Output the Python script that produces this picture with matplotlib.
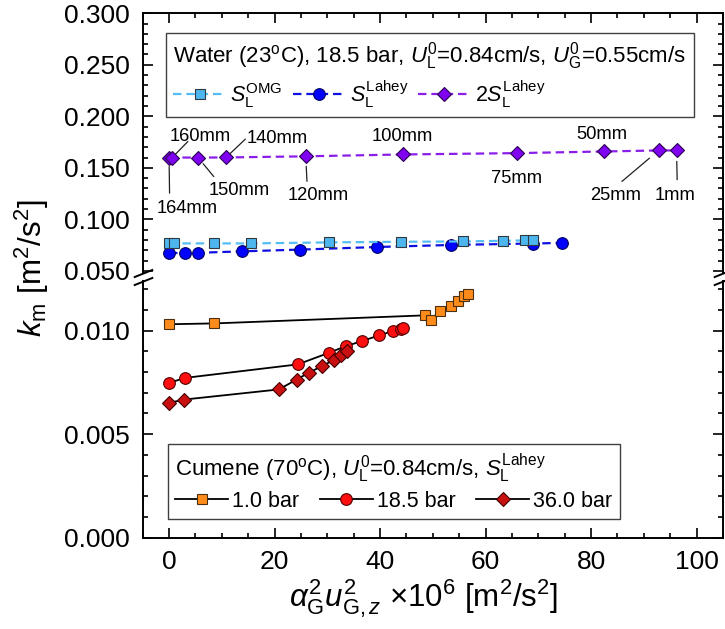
import matplotlib
matplotlib.use('Agg')
import matplotlib.pyplot as plt
from matplotlib.ticker import MultipleLocator, FormatStrFormatter

plt.rcParams['font.family'] = ['Liberation Sans', 'DejaVu Sans']
plt.rcParams['mathtext.fontset'] = 'custom'
plt.rcParams['mathtext.rm'] = 'Liberation Sans'
plt.rcParams['mathtext.it'] = 'Liberation Sans:italic'
plt.rcParams['mathtext.bf'] = 'Liberation Sans:bold'
plt.rcParams['mathtext.sf'] = 'Liberation Sans'

# ---------------- data ----------------
# Water (23 C), 18.5 bar
x_omg = [0.0, 0.9, 8.5, 15.6, 30.4, 44.0, 55.8, 63.3, 67.4, 68.9]
y_omg = [0.0767, 0.0767, 0.0767, 0.0767, 0.0777, 0.0783, 0.0786, 0.0792, 0.0796, 0.0796]

x_lahey = [0.0, 3.1, 5.5, 13.9, 24.9, 39.4, 53.5, 69.0, 74.5]
y_lahey = [0.0675, 0.0673, 0.0676, 0.0690, 0.0707, 0.0732, 0.0752, 0.0766, 0.0772]

heights = ['164mm', '160mm', '150mm', '140mm', '120mm', '100mm', '75mm', '50mm', '25mm', '1mm']
x_2lahey = [0.0, 0.6, 5.5, 10.8, 25.9, 44.3, 65.9, 82.4, 92.8, 96.2]
y_2lahey = [0.1600, 0.1600, 0.1600, 0.1601, 0.1612, 0.1630, 0.1643, 0.1659, 0.1669, 0.1669]

# Cumene (70 C)
x_1bar = [0.0, 8.6, 48.6, 49.6, 51.3, 53.5, 54.7, 56.0, 56.6]
y_1bar = [0.01031, 0.01035, 0.01074, 0.01051, 0.01095, 0.01119, 0.01143, 0.01168, 0.01179]

x_18bar = [0.0, 3.1, 24.4, 30.3, 33.5, 36.6, 39.8, 42.4, 43.9, 44.3]
y_18bar = [0.00748, 0.00772, 0.00837, 0.00893, 0.00925, 0.00950, 0.00977, 0.00998, 0.01010, 0.01015]

x_36bar = [0.0, 2.8, 20.8, 24.2, 26.5, 29.0, 31.2, 32.5, 33.7]
y_36bar = [0.00651, 0.00667, 0.00716, 0.00764, 0.00797, 0.00829, 0.00858, 0.00880, 0.00904]

# ---------------- figure ----------------
fig = plt.figure(figsize=(7.25, 6.29), dpi=100)
ax_top = fig.add_axes([0.1968, 0.5660, 0.8004, 0.4129])
ax_bot = fig.add_axes([0.1968, 0.1452, 0.8004, 0.4081])

for ax in (ax_top, ax_bot):
    ax.set_xlim(-5, 105)
    ax.xaxis.set_major_locator(MultipleLocator(20))
    ax.xaxis.set_minor_locator(MultipleLocator(5))
    for s in ax.spines.values():
        s.set_linewidth(1.4)
    ax.tick_params(which='both', direction='in', right=True, width=1.2,
                   labelsize=19, pad=9)
    ax.tick_params(which='major', length=7)
    ax.tick_params(which='minor', length=3.5)

ax_top.set_ylim(0.048, 0.300)
ax_top.yaxis.set_major_locator(MultipleLocator(0.05))
ax_top.yaxis.set_minor_locator(MultipleLocator(0.01))
ax_top.yaxis.set_major_formatter(FormatStrFormatter('%.3f'))
ax_top.spines['bottom'].set_visible(False)
ax_top.tick_params(which='both', top=True, bottom=False, labelbottom=False)

ax_bot.set_ylim(0.0, 0.0124)
ax_bot.yaxis.set_major_locator(MultipleLocator(0.005))
ax_bot.yaxis.set_minor_locator(MultipleLocator(0.001))
ax_bot.yaxis.set_major_formatter(FormatStrFormatter('%.3f'))
ax_bot.spines['top'].set_visible(False)
ax_bot.tick_params(which='both', top=False, bottom=True)

# ---- upper panel (water) ----
dash = (3.8, 2.2)
l_lahey, = ax_top.plot(x_lahey, y_lahey, ls='--', dashes=dash, color='#1010E0', lw=1.6,
                       marker='o', ms=8.4, mfc='#0000FF', mec='#000060', mew=0.8,
                       zorder=3, label=r'$S_{\rm L}^{\rm Lahey}$')
l_omg, = ax_top.plot(x_omg, y_omg, ls='--', dashes=dash, color='#55BDF5', lw=1.6,
                     marker='s', ms=7.6, mfc='#4DB6EE', mec='#303840', mew=0.8,
                     zorder=4, label=r'$S_{\rm L}^{\rm OMG}$')
l_2lahey, = ax_top.plot(x_2lahey, y_2lahey, ls='--', dashes=dash, color='#8A1EE8', lw=1.6,
                        marker='D', ms=7.3, mfc='#8000F0', mec='#2A0050', mew=0.8,
                        zorder=4, label=r'2$S_{\rm L}^{\rm Lahey}$')

leg_kw = dict(ncol=3, loc='upper left', borderaxespad=0, fontsize=15.5,
              title_fontsize=16, frameon=True, fancybox=False, edgecolor='#404040',
              framealpha=1, handlelength=2.45, handletextpad=0.2,
              borderpad=0.35, labelspacing=0.25)

leg1 = ax_top.legend(handles=[l_omg, l_lahey, l_2lahey],
                     title=r'Water (23$^{\rm o}$C), 18.5 bar, $U_{\rm L}^{0}$=0.84cm/s, $U_{\rm G}^{0}$=0.55cm/s',
                     bbox_to_anchor=(0.040, 0.924), columnspacing=0.45, **leg_kw)
leg1._legend_box.align = 'left'
leg1.get_frame().set_linewidth(1.0)

# height annotations (text offset px, leader end offset px, leader gap px)
label_style = {
    '164mm': ((18.5, -49.3), (0.5, -35.6), 9),
    '160mm': ((28.3, 22.7), (15.6, 16.0), 4),
    '150mm': ((40.7, -31.3), (15.7, -19.0), 8),
    '140mm': ((50.8, 20.6), (19.3, 18.3), 6),
    '120mm': ((13.0, -37.6), (1.3, -25.0), 10),
    '100mm': ((-0.8, 19.7), None, 0),
    '75mm': ((0.2, -23.5), None, 0),
    '50mm': ((-1.5, 18.7), None, 0),
    '25mm': ((-43.0, -42.6), (-36.7, -31.0), 12),
    '1mm': ((-1.7, -42.6), (0.6, -29.3), 11),
}
lab_fs = 13.2
cap_px = 0.716 * lab_fs * 100 / 72
for name, xv, yv in zip(heights, x_2lahey, y_2lahey):
    (tdx, tdy), lead, gap = label_style[name]
    ax_top.annotate(name, xy=(xv, yv), xytext=(tdx, tdy - cap_px / 2),
                    textcoords='offset pixels', ha='center', va='baseline',
                    fontsize=lab_fs)
    if lead is not None:
        ax_top.annotate('', xy=(xv, yv), xytext=lead, textcoords='offset pixels',
                        arrowprops=dict(arrowstyle='-', color='#202020', lw=0.9,
                                        shrinkA=0, shrinkB=gap * 72 / 100))

# ---- lower panel (cumene) ----
l1, = ax_bot.plot(x_1bar, y_1bar, '-', color='black', lw=1.3, marker='s', ms=7.6,
                  mfc='#FF8C1A', mec='#4A3010', mew=0.8, label='1.0 bar')
l2, = ax_bot.plot(x_18bar, y_18bar, '-', color='black', lw=1.3, marker='o', ms=8.4,
                  mfc='#FF1010', mec='#500000', mew=0.8, label='18.5 bar')
l3, = ax_bot.plot(x_36bar, y_36bar, '-', color='black', lw=1.3, marker='D', ms=7.3,
                  mfc='#C81010', mec='#400000', mew=0.8, label='36.0 bar')

leg2 = ax_bot.legend(handles=[l1, l2, l3],
                     title=r'Cumene (70$^{\rm o}$C), $U_{\rm L}^{0}$=0.84cm/s, $S_{\rm L}^{\rm Lahey}$',
                     bbox_to_anchor=(0.0434, 0.364), columnspacing=0.95, **leg_kw)
leg2._legend_box.align = 'left'
leg2.get_frame().set_linewidth(1.0)

# ---- break marks ----
d = 0.4
bk = dict(marker=[(-1, -d), (1, d)], markersize=14, linestyle='none',
          color='k', mec='k', mew=1.4, clip_on=False)
ax_top.plot([0, 1], [0, 0], transform=ax_top.transAxes, **bk)
ax_bot.plot([0, 1], [1, 1], transform=ax_bot.transAxes, **bk)

# ---- axis labels ----
fig.text(32 / 725, 1 - 268 / 629, r'$k_{\rm m}$ [m$^2$/s$^2$]', rotation=90,
         ha='center', va='center', fontsize=22.5)
fig.text(424 / 725, 1 - 599 / 629,
         r'$\alpha_{\rm G}^{2}u_{{\rm G},z}^{2}$ $\times$10$^{6}$ [m$^2$/s$^2$]',
         ha='center', va='center', fontsize=22.5)

fig.savefig('out.png', dpi=100)
